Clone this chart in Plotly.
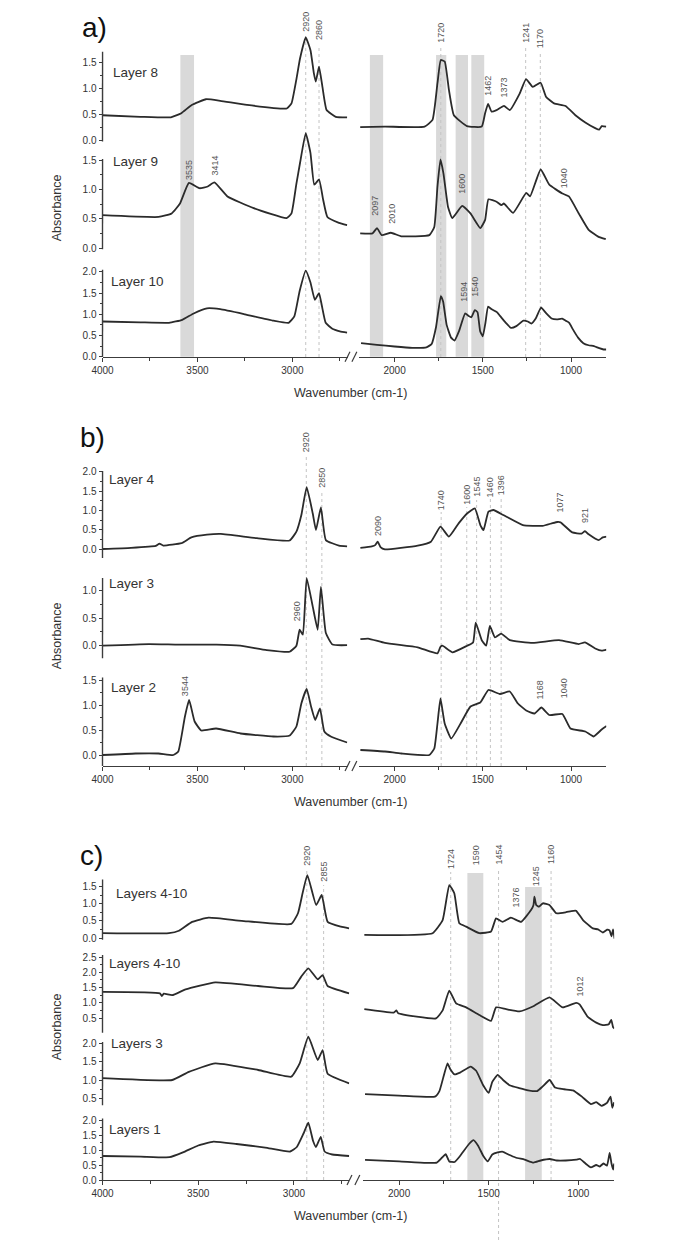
import plotly.graph_objects as go

W, H = 685, 1248

# ---------------- spectra: wavenumber (cm-1) / absorbance ----------------
# panel a
a8_hi_wn = [4000, 3800, 3640, 3585, 3530, 3455, 3380, 3240, 3030, 3005, 2980, 2960, 2930, 2905, 2887, 2877, 2860, 2842, 2820, 2772, 2712]
a8_hi_ab = [0.48, 0.45, 0.44, 0.52, 0.68, 0.79, 0.76, 0.68, 0.61, 0.71, 1.16, 1.58, 1.99, 1.74, 1.29, 1.13, 1.42, 1.03, 0.58, 0.45, 0.44]
a8_lo_wn = [2195, 2055, 1830, 1785, 1757, 1738, 1716, 1692, 1664, 1590, 1506, 1487, 1470, 1450, 1422, 1380, 1347, 1291, 1255, 1217, 1172, 1142, 1096, 1031, 975, 919, 863, 840, 826, 800]
a8_lo_ab = [0.25, 0.26, 0.26, 0.39, 1.10, 1.55, 1.52, 0.97, 0.48, 0.27, 0.26, 0.52, 0.70, 0.55, 0.58, 0.66, 0.58, 0.90, 1.18, 1.03, 1.11, 0.84, 0.71, 0.66, 0.48, 0.34, 0.23, 0.20, 0.27, 0.26]

a9_hi_wn = [4000, 3705, 3636, 3592, 3545, 3489, 3446, 3411, 3342, 3204, 3031, 3005, 2979, 2960, 2930, 2905, 2885, 2860, 2838, 2816, 2755, 2712]
a9_hi_ab = [0.56, 0.53, 0.59, 0.76, 1.11, 1.02, 1.05, 1.12, 0.88, 0.68, 0.51, 0.59, 1.10, 1.45, 1.96, 1.62, 1.08, 1.17, 0.82, 0.53, 0.43, 0.39]
a9_lo_wn = [2195, 2125, 2100, 2073, 2021, 1962, 1803, 1775, 1757, 1740, 1723, 1697, 1673, 1617, 1570, 1514, 1487, 1468, 1422, 1394, 1381, 1328, 1254, 1232, 1172, 1123, 1049, 1012, 956, 900, 844, 803]
a9_lo_ab = [0.25, 0.25, 0.34, 0.22, 0.26, 0.20, 0.22, 0.36, 1.05, 1.51, 1.27, 0.70, 0.51, 0.72, 0.59, 0.34, 0.48, 0.83, 0.79, 0.73, 0.76, 0.60, 0.94, 0.88, 1.34, 1.08, 0.93, 0.88, 0.59, 0.31, 0.19, 0.15]

a10_hi_wn = [4000, 3800, 3650, 3580, 3520, 3450, 3380, 3250, 3100, 3020, 2990, 2962, 2930, 2905, 2882, 2860, 2845, 2825, 2790, 2750, 2712]
a10_hi_ab = [0.83, 0.81, 0.80, 0.87, 1.02, 1.14, 1.12, 1.00, 0.85, 0.80, 0.95, 1.55, 2.03, 1.75, 1.34, 1.50, 1.20, 0.80, 0.66, 0.60, 0.57]
a10_lo_wn = [2190, 2100, 2000, 1900, 1820, 1790, 1765, 1738, 1725, 1705, 1680, 1660, 1635, 1600, 1580, 1565, 1545, 1530, 1515, 1500, 1485, 1470, 1450, 1420, 1400, 1370, 1340, 1310, 1270, 1245, 1225, 1200, 1170, 1140, 1110, 1080, 1050, 1030, 1010, 990, 960, 930, 900, 870, 840, 815, 800]
a10_lo_ab = [0.32, 0.28, 0.24, 0.21, 0.22, 0.30, 0.70, 1.43, 1.30, 0.75, 0.45, 0.38, 0.60, 1.02, 0.96, 0.93, 1.10, 1.05, 0.60, 0.48, 0.80, 1.18, 1.12, 1.05, 0.95, 0.80, 0.68, 0.72, 0.85, 0.83, 0.78, 0.90, 1.16, 1.02, 0.90, 0.88, 0.90, 0.85, 0.80, 0.65, 0.45, 0.32, 0.27, 0.25, 0.20, 0.17, 0.17]

# panel b
b4_hi_wn = [4000, 3850, 3720, 3700, 3680, 3584, 3532, 3450, 3377, 3187, 3015, 2979, 2953, 2925, 2893, 2876, 2850, 2824, 2755, 2712]
b4_hi_ab = [0.00, 0.03, 0.08, 0.14, 0.09, 0.15, 0.30, 0.37, 0.39, 0.28, 0.22, 0.45, 0.88, 1.60, 0.92, 0.49, 1.08, 0.23, 0.09, 0.07]
b4_lo_wn = [2194, 2129, 2110, 2096, 2080, 2055, 1869, 1794, 1740, 1692, 1636, 1589, 1545, 1514, 1496, 1468, 1440, 1384, 1273, 1161, 1105, 1077, 1059, 993, 940, 921, 900, 844, 820, 798]
b4_lo_ab = [0.03, 0.07, 0.10, 0.19, 0.05, -0.01, 0.09, 0.19, 0.58, 0.32, 0.67, 0.92, 1.05, 0.62, 0.49, 0.97, 1.01, 0.88, 0.62, 0.60, 0.67, 0.70, 0.69, 0.43, 0.40, 0.46, 0.38, 0.23, 0.30, 0.32]

b3_hi_wn = [4000, 3756, 3600, 3400, 3275, 3135, 3015, 2979, 2962, 2945, 2925, 2893, 2867, 2850, 2824, 2789, 2712]
b3_hi_ab = [0.00, 0.03, 0.02, 0.02, 0.00, -0.08, -0.11, 0.00, 0.29, 0.20, 1.23, 0.71, 0.29, 1.07, 0.23, 0.02, 0.01]
b3_lo_wn = [2194, 2150, 2055, 1869, 1757, 1740, 1729, 1673, 1589, 1555, 1540, 1506, 1481, 1460, 1431, 1396, 1347, 1217, 1068, 956, 921, 863, 826, 798]
b3_lo_ab = [0.12, 0.13, 0.05, -0.03, -0.14, -0.02, 0.00, -0.12, 0.00, 0.06, 0.42, 0.10, 0.00, 0.36, 0.15, 0.22, 0.10, 0.05, 0.10, 0.03, 0.06, -0.05, -0.09, -0.07]

b2_hi_wn = [4000, 3826, 3705, 3627, 3601, 3566, 3544, 3515, 3480, 3402, 3273, 3100, 3014, 2979, 2953, 2925, 2902, 2880, 2855, 2832, 2798, 2712]
b2_hi_ab = [0.00, 0.03, 0.03, 0.00, 0.07, 0.77, 1.10, 0.67, 0.49, 0.53, 0.43, 0.37, 0.39, 0.57, 1.03, 1.32, 0.97, 0.70, 0.93, 0.47, 0.37, 0.25]
b2_lo_wn = [2194, 2055, 1962, 1803, 1775, 1757, 1740, 1716, 1679, 1626, 1570, 1514, 1468, 1403, 1347, 1301, 1254, 1207, 1168, 1123, 1049, 1003, 919, 872, 826, 798]
b2_lo_ab = [0.10, 0.07, 0.03, 0.00, 0.13, 0.63, 1.13, 0.63, 0.33, 0.63, 0.97, 1.05, 1.30, 1.22, 1.27, 1.03, 0.89, 0.83, 0.95, 0.80, 0.82, 0.53, 0.47, 0.37, 0.51, 0.58]

# panel c
c1_hi_wn = [4000, 3653, 3601, 3532, 3446, 3273, 3014, 2979, 2955, 2930, 2884, 2855, 2824, 2755, 2712]
c1_hi_ab = [0.14, 0.14, 0.21, 0.47, 0.59, 0.50, 0.41, 0.72, 1.30, 1.83, 0.96, 1.25, 0.47, 0.33, 0.28]
c1_lo_wn = [2194, 1813, 1757, 1720, 1692, 1664, 1626, 1552, 1487, 1459, 1422, 1376, 1319, 1263, 1250, 1245, 1235, 1220, 1198, 1161, 1123, 1068, 1040, 1012, 975, 919, 890, 863, 840, 826, 815, 806, 798]
c1_lo_ab = [0.09, 0.14, 0.52, 1.54, 1.30, 0.43, 0.33, 0.14, 0.19, 0.57, 0.47, 0.59, 0.47, 0.82, 0.96, 1.20, 0.96, 0.91, 1.01, 0.96, 0.72, 0.75, 0.78, 0.79, 0.53, 0.28, 0.25, 0.16, 0.24, 0.22, 0.05, 0.25, -0.02]

c2_hi_wn = [4000, 3700, 3690, 3680, 3636, 3566, 3411, 3187, 3005, 2962, 2925, 2876, 2850, 2824, 2712]
c2_hi_ab = [1.36, 1.31, 1.22, 1.30, 1.25, 1.44, 1.67, 1.55, 1.48, 1.86, 2.13, 1.77, 1.91, 1.55, 1.31]
c2_lo_wn = [2194, 2030, 2015, 2005, 1794, 1757, 1720, 1682, 1626, 1552, 1487, 1459, 1403, 1328, 1254, 1161, 1087, 1012, 993, 947, 900, 863, 830, 816, 806, 798]
c2_lo_ab = [0.79, 0.68, 0.75, 0.66, 0.49, 0.75, 1.40, 0.98, 0.85, 0.60, 0.41, 0.85, 0.79, 0.72, 0.88, 1.18, 0.85, 1.00, 0.95, 0.54, 0.35, 0.27, 0.30, 0.44, 0.20, 0.16]

c3_hi_wn = [4000, 3636, 3549, 3411, 3187, 3014, 2970, 2925, 2876, 2850, 2824, 2712]
c3_hi_ab = [1.05, 1.00, 1.22, 1.45, 1.27, 1.09, 1.45, 2.17, 1.54, 1.81, 1.17, 0.91]
c3_lo_wn = [2190, 2000, 1800, 1775, 1730, 1715, 1690, 1660, 1600, 1570, 1530, 1500, 1480, 1450, 1420, 1380, 1330, 1280, 1230, 1200, 1160, 1130, 1080, 1030, 980, 930, 900, 870, 840, 820, 810, 800]
c3_lo_ab = [0.62, 0.58, 0.55, 0.70, 1.45, 1.30, 1.15, 1.20, 1.36, 1.25, 0.85, 0.65, 0.95, 1.14, 1.00, 0.85, 0.78, 0.72, 0.70, 0.82, 1.00, 0.80, 0.75, 0.72, 0.55, 0.35, 0.40, 0.30, 0.38, 0.55, 0.25, 0.40]

c4_hi_wn = [4000, 3800, 3650, 3580, 3500, 3420, 3300, 3150, 3020, 2985, 2950, 2925, 2900, 2885, 2860, 2840, 2800, 2712]
c4_hi_ab = [0.80, 0.78, 0.76, 0.92, 1.15, 1.28, 1.20, 1.08, 0.95, 1.10, 1.55, 1.91, 1.30, 1.10, 1.44, 0.95, 0.85, 0.80]
c4_lo_wn = [2190, 2000, 1850, 1790, 1760, 1740, 1720, 1690, 1660, 1610, 1585, 1560, 1530, 1505, 1480, 1450, 1420, 1390, 1350, 1300, 1250, 1210, 1160, 1120, 1070, 1010, 990, 960, 930, 900, 880, 860, 840, 825, 815, 805, 800]
c4_lo_ab = [0.67, 0.62, 0.57, 0.58, 0.75, 0.86, 0.62, 0.60, 0.80, 1.20, 1.33, 1.15, 0.80, 0.62, 0.85, 0.92, 0.94, 0.85, 0.75, 0.68, 0.58, 0.65, 0.70, 0.65, 0.65, 0.68, 0.70, 0.55, 0.42, 0.50, 0.45, 0.55, 0.48, 0.90, 0.55, 0.35, 0.55]

layer_names = ["Layer 8", "Layer 9", "Layer 10",
               "Layer 4", "Layer 3", "Layer 2",
               "Layers 4-10", "Layers 4-10", "Layers 3", "Layers 1"]

# peak labels: (panel, half, text)
peak_text = [
    ("a", "L", "2920"), ("a", "L", "2860"), ("a", "L", "3535"), ("a", "L", "3414"),
    ("a", "R", "1720"), ("a", "R", "1241"), ("a", "R", "1170"), ("a", "R", "1462"), ("a", "R", "1373"),
    ("a", "R", "2097"), ("a", "R", "2010"), ("a", "R", "1600"), ("a", "R", "1040"),
    ("a", "R", "1594"), ("a", "R", "1540"),
    ("b", "L", "2920"), ("b", "L", "2850"), ("b", "L", "2960"), ("b", "L", "3544"),
    ("b", "R", "2090"), ("b", "R", "1740"), ("b", "R", "1600"), ("b", "R", "1545"), ("b", "R", "1460"),
    ("b", "R", "1396"), ("b", "R", "1077"), ("b", "R", "921"), ("b", "R", "1168"), ("b", "R", "1040"),
    ("c", "L", "2920"), ("c", "L", "2855"),
    ("c", "R", "1724"), ("c", "R", "1590"), ("c", "R", "1454"), ("c", "R", "1376"), ("c", "R", "1245"),
    ("c", "R", "1160"), ("c", "R", "1012"),
]

# ---------------- layout geometry (pixels) ----------------
def px(p):
    return p / W


def py(p):
    return 1 - p / H


X_DOM = {"a": ((93, 342), (354, 605)), "b": ((93, 342), (354, 605)), "c": ((93, 344), (358, 613))}
panel_axis_y = {"a": 356.7, "b": 766, "c": 1180}
panel_xaxes = {"a": ("x", "x2"), "b": ("x3", "x4"), "c": ("x5", "x6")}

# (panel, y-zero pixel, px per unit, spine lo/hi, tick values)
layer_geo = [
    ("a", 140, 51.6, (-0.03, 1.71), [0, 0.5, 1, 1.5]),
    ("a", 248, 58.6, (-0.02, 1.52), [0, 0.5, 1, 1.5]),
    ("a", 356.7, 42.4, (0, 2.05), [0, 0.5, 1, 1.5, 2]),
    ("b", 549, 38.6, (-0.23, 2.02), [0, 0.5, 1, 1.5, 2]),
    ("b", 645.7, 55, (-0.23, 1.23), [0, 0.5, 1]),
    ("b", 755, 50, (-0.22, 1.55), [0, 0.5, 1, 1.5]),
    ("c", 938, 34.4, (-0.05, 1.7), [0, 0.5, 1, 1.5]),
    ("c", 1033.3, 30.5, (0.02, 2.57), [0.5, 1, 1.5, 2, 2.5]),
    ("c", 1117, 37, (0.32, 2.03), [0.5, 1, 1.5, 2]),
    ("c", 1180, 30, (0, 2.05), [0, 0.5, 1, 1.5, 2]),
]
label_pos = [(102, 72), (102, 162), (100, 282), (98, 479), (98, 583), (100, 687),
             (105, 893), (98, 963), (100, 1043), (98, 1129)]

spectra = [(a8_hi_wn, a8_hi_ab, a8_lo_wn, a8_lo_ab), (a9_hi_wn, a9_hi_ab, a9_lo_wn, a9_lo_ab),
           (a10_hi_wn, a10_hi_ab, a10_lo_wn, a10_lo_ab), (b4_hi_wn, b4_hi_ab, b4_lo_wn, b4_lo_ab),
           (b3_hi_wn, b3_hi_ab, b3_lo_wn, b3_lo_ab), (b2_hi_wn, b2_hi_ab, b2_lo_wn, b2_lo_ab),
           (c1_hi_wn, c1_hi_ab, c1_lo_wn, c1_lo_ab), (c2_hi_wn, c2_hi_ab, c2_lo_wn, c2_lo_ab),
           (c3_hi_wn, c3_hi_ab, c3_lo_wn, c3_lo_ab), (c4_hi_wn, c4_hi_ab, c4_lo_wn, c4_lo_ab)]

# label placement: (x wavenumber, y pixel) in the same order as peak_text
peak_pos = [
    (2930, 22), (2860, 30), (3545, 170), (3410, 166),
    (1738, 33), (1257, 33), (1174, 39), (1472, 86), (1382, 88),
    (2112, 206), (2016, 214), (1619, 184), (1038, 178),
    (1608, 292), (1546, 287),
    (2927, 442), (2845, 478), (2974, 611), (3565, 686),
    (2094, 526), (1736, 500), (1591, 495), (1535, 487), (1457, 487),
    (1396, 485), (1060, 502), (921, 515), (1178, 690), (1038, 688),
    (2933, 856), (2845, 872),
    (1710, 859), (1569, 855), (1445, 855), (1350, 898), (1234, 876),
    (1152, 855), (993, 987),
]

# dotted guide lines: (panel, half, wavenumber, top px, bottom px)
guides = [
    ("a", "L", 2930, 36, 357), ("a", "L", 2860, 45, 357), ("a", "R", 1738, 48, 357),
    ("a", "R", 1257, 46, 357), ("a", "R", 1174, 52, 357),
    ("b", "L", 2927, 455, 766), ("b", "L", 2845, 490, 766), ("b", "R", 1736, 512, 766),
    ("b", "R", 1591, 507, 766), ("b", "R", 1535, 500, 766), ("b", "R", 1457, 499, 766),
    ("b", "R", 1396, 498, 766),
    ("c", "L", 2933, 869, 1180), ("c", "L", 2845, 885, 1180), ("c", "R", 1712, 872, 1180),
    ("c", "R", 1445, 868, 1240), ("c", "R", 1152, 868, 1180),
]
# grey bands: (panel, half, wn from, wn to, top px)
bands = [
    ("a", "L", 3590, 3518, 55), ("a", "R", 2140, 2065, 55), ("a", "R", 1765, 1707, 55),
    ("a", "R", 1654, 1584, 55), ("a", "R", 1565, 1492, 55),
    ("c", "R", 1619, 1530, 873), ("c", "R", 1297, 1204, 887),
]

INK = "#333333"
AXC = "#3c3c3c"
FONT = "Liberation Sans, Arial, sans-serif"

fig = go.Figure()
layout = dict(width=W, height=H, margin=dict(l=0, r=0, t=0, b=0),
              paper_bgcolor="white", plot_bgcolor="rgba(0,0,0,0)",
              showlegend=False, font=dict(family=FONT, color=INK))
shapes, annotations = [], []


def note(text, x, y, xref="paper", size=10, color=INK, angle=0, xanchor="center", family=None):
    f = dict(size=size, color=color)
    if family:
        f["family"] = family
    return dict(text=text, xref=xref, yref="paper", x=x, y=y, textangle=angle, showarrow=False,
                xanchor=xanchor, yanchor="middle", font=f)


# x axes (broken: 4000-2710 | 2200-800)
for p, (xl, xr) in panel_xaxes.items():
    pos = py(panel_axis_y[p])
    (l0, l1), (r0, r1) = X_DOM[p]
    common = dict(anchor="free", position=pos, showline=True, linecolor=AXC, linewidth=1.4,
                  ticks="outside", ticklen=4, tickcolor=AXC, showgrid=False, zeroline=False,
                  tickfont=dict(size=10, color=INK))
    layout["xaxis" + xl[1:]] = dict(domain=[px(l0), px(l1)], range=[4000, 2710],
                                    tickvals=[4000, 3500, 3000],
                                    minor=dict(tickvals=[3750, 3250, 2750], ticks="outside", ticklen=3,
                                               tickcolor=AXC), **common)
    layout["xaxis" + xr[1:]] = dict(domain=[px(r0), px(r1)], range=[2200, 800],
                                    tickvals=[2000, 1500, 1000],
                                    minor=dict(tickvals=[1750, 1250], ticks="outside", ticklen=3,
                                               tickcolor=AXC), **common)
    ay = panel_axis_y[p]
    for bx in (l1, (l1 + r0) / 2 + 1):
        shapes.append(dict(type="line", xref="paper", yref="paper",
                           x0=px(bx - 2.5), x1=px(bx + 2.5), y0=py(ay + 5), y1=py(ay - 5),
                           line=dict(color=AXC, width=1.2)))
    annotations.append(note("Wavenumber (cm-1)", px(345), py(ay + 36), size=12.5))

# y axes + spectra
for i, (p, y0, k, spine, tv) in enumerate(layer_geo):
    lo, hi = -0.6, 2.7
    top, bot = max(0, y0 - hi * k), min(H, y0 - lo * k)
    lo_v, hi_v = (y0 - bot) / k, (y0 - top) / k
    yname = "y" if i == 0 else "y%d" % (i + 1)
    xl0 = X_DOM[p][0][0]
    minors = [t + 0.25 for t in tv[:-1]]
    layout["yaxis" if i == 0 else "yaxis%d" % (i + 1)] = dict(
        domain=[py(bot), py(top)], range=[lo_v, hi_v], anchor="free", position=px(xl0),
        showline=False, showgrid=False, zeroline=False, ticks="outside", ticklen=4, tickcolor=AXC,
        tickvals=tv, ticktext=["%.1f" % t for t in tv], tickfont=dict(size=10, color=INK),
        minor=dict(tickvals=minors, ticks="outside", ticklen=2.5, tickcolor=AXC))
    # axis spine only over the labelled span
    shapes.append(dict(type="line", xref="paper", yref="paper", x0=px(xl0), x1=px(xl0) + 0.0001,
                       y0=py(y0 - spine[0] * k), y1=py(y0 - spine[1] * k),
                       line=dict(color=AXC, width=1.4)))
    xl, xr = panel_xaxes[p]
    hw, ha, lw, la = spectra[i]
    for xs, ys, xa in ((hw, ha, xl), (lw, la, xr)):
        fig.add_trace(go.Scatter(x=xs, y=ys, xaxis=xa, yaxis=yname, mode="lines",
                                 line=dict(color="#2b2b2b", width=1.8, shape="spline", smoothing=0.4),
                                 hoverinfo="skip"))
    lx, ly = label_pos[i]
    annotations.append(note(layer_names[i], px(lx), py(ly), size=13.5, xanchor="left"))

for p, half, w0, w1, top in bands:
    xa = panel_xaxes[p][0 if half == "L" else 1]
    shapes.append(dict(type="rect", xref=xa, yref="paper", x0=w0, x1=w1,
                       y0=py(panel_axis_y[p]), y1=py(top), fillcolor="#d9d9d9",
                       line=dict(width=0), layer="below"))
for p, half, w, top, bot in guides:
    xa = panel_xaxes[p][0 if half == "L" else 1]
    shapes.append(dict(type="line", xref=xa, yref="paper", x0=w, x1=w, y0=py(bot), y1=py(top),
                       line=dict(color="#c4c4c4", width=1, dash="dot"), layer="below"))
for (p, half, txt), (w, yc) in zip(peak_text, peak_pos):
    xa = panel_xaxes[p][0 if half == "L" else 1]
    annotations.append(note(txt, w, py(yc), xref=xa, size=9, color="#555555", angle=-90,
                            family="Liberation Sans Narrow, Liberation Sans"))

for txt, (xc, yc) in (("a)", (85, 27)), ("b)", (83, 437)), ("c)", (82, 855))):
    annotations.append(note(txt, px(xc), py(yc), size=28, color="#111111"))
for yc in (208, 636, 1027):
    annotations.append(note("Absorbance", px(47), py(yc), size=12.5, angle=-90))

layout["shapes"] = shapes
layout["annotations"] = annotations
fig.update_layout(**layout)
fig.write_html("out.html", config={"displayModeBar": False},
               post_script="document.body.style.margin='0px';")
